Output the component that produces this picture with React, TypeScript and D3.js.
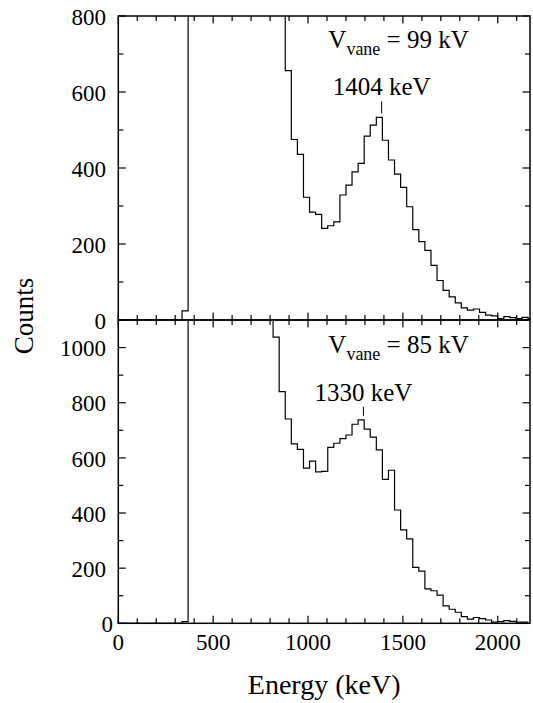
import React from 'react'
import * as d3 from 'd3'

// histogram bins: width 32 keV, first listed bin starts at 336 keV
const binStart = 336
const binWidth = 32

// 99 kV run; bins from 368 to 880 are off scale (above 800)
const countsTop = [
    24,
    1500, 1500, 1500, 1500, 1500, 1500, 1500, 1500,
    1500, 1500, 1500, 1500, 1500, 1500, 1500, 1500,
    656, 475, 436, 323, 284, 278, 241, 248, 258, 329,
    355, 390, 412, 484, 513, 533, 473, 421, 384, 349,
    298, 238, 206, 183, 144, 104, 78, 61, 45, 32,
    26, 29, 20, 13, 11, 4, 9, 6, 4, 7, 3,
]

// 85 kV run; bins from 368 to 816 are off scale (above 1100)
const countsBottom = [
    6,
    1500, 1500, 1500, 1500, 1500, 1500, 1500,
    1500, 1500, 1500, 1500, 1500, 1500, 1500,
    1038, 840, 741, 651, 631, 563, 588, 549, 551, 638,
    653, 670, 683, 722, 738, 704, 675, 629, 522, 555,
    411, 339, 306, 203, 189, 125, 118, 102, 63, 51,
    40, 24, 15, 21, 17, 12, 4, 6, 10, 7, 4, 4,
]

const xTickLabels = [0, 500, 1000, 1500, 2000]
const yTickLabelsTop = [0, 200, 400, 600, 800]
const yTickLabelsBottom = [0, 200, 400, 600, 800, 1000]

const panels = [
    { counts: countsTop, yMax: 800, range: [320, 16], vane: '99', peak: 1404, peakAt: 1388, ticks: yTickLabelsTop },
    { counts: countsBottom, yMax: 1100, range: [623.3, 320], vane: '85', peak: 1330, peakAt: 1292, ticks: yTickLabelsBottom },
]

const font = '"Liberation Serif", "Times New Roman", Times, serif'

const App = () => {
    const x = d3.scaleLinear().domain([0, 2170]).range([118.3, 530])
    const [x0, x1] = x.range()
    const minorX = d3.range(0, 2170, 100)

    return (
        <svg width={533} height={703} style={{ position: 'absolute', left: 0, top: 0, fontFamily: font }}>
            {panels.map((p, pi) => {
                const y = d3.scaleLinear().domain([0, p.yMax]).range(p.range)
                const [yb, yt] = y.range()
                const pts: [number, number][] = [[0, 0]]
                p.counts.forEach((c, i) => pts.push([binStart + i * binWidth, c]))
                pts.push([binStart + p.counts.length * binWidth, p.counts[p.counts.length - 1]])
                const line = d3.line<[number, number]>()
                    .x(d => x(d[0]))
                    .y(d => y(d[1]))
                    .curve(d3.curveStepAfter)
                const minorY = d3.range(0, p.yMax + 1, 100)
                const peakIdx = Math.floor((p.peakAt - binStart) / binWidth)
                const peakY = y(p.counts[peakIdx])
                const isTop = pi === 0
                return (
                    <g key={pi}>
                        <clipPath id={'clip' + pi}>
                            <rect x={x0} y={yt} width={x1 - x0} height={yb - yt} />
                        </clipPath>
                        <path d={line(pts) || ''} fill="none" stroke="#000" strokeWidth={1.2} clipPath={`url(#clip${pi})`} />
                        {/* y ticks, left and right */}
                        {minorY.map(v => {
                            const len = v % 200 === 0 ? 7.5 : 5
                            return (
                                <g key={v} stroke="#000" strokeWidth={1.2}>
                                    <line x1={x0} x2={x0 + len} y1={y(v)} y2={y(v)} />
                                    <line x1={x1} x2={x1 - len} y1={y(v)} y2={y(v)} />
                                </g>
                            )
                        })}
                        {/* x ticks on this panel's top and bottom edges */}
                        {minorX.map(v => {
                            const len = v % 500 === 0 ? 7.5 : 5
                            return (
                                <g key={v} stroke="#000" strokeWidth={1.2}>
                                    <line x1={x(v)} x2={x(v)} y1={yt} y2={yt + len} />
                                    <line x1={x(v)} x2={x(v)} y1={yb} y2={yb - len} />
                                </g>
                            )
                        })}
                        {p.ticks.map(v => (
                            <text key={v} x={!isTop && v === 0 ? 113 : 106} y={y(v)} dy="0.38em" textAnchor="end" fontSize={23}>{v}</text>
                        ))}
                        <rect x={x0} y={yt} width={x1 - x0} height={yb - yt} fill="none" stroke="#000" strokeWidth={1.5} />
                        <text x={x(1107)} y={isTop ? 48 : 353} fontSize={25}>
                            V<tspan fontSize={18} dy={7}>vane</tspan><tspan dy={-7}> = {p.vane} kV</tspan>
                        </text>
                        <line x1={x(p.peakAt)} x2={x(p.peakAt)} y1={peakY - 4} y2={peakY - (isTop ? 16 : 13)} stroke="#000" strokeWidth={1} />
                        <text x={x(p.peakAt)} y={peakY - (isTop ? 22.5 : 18.5)} textAnchor="middle" fontSize={25}>{p.peak} keV</text>
                    </g>
                )
            })}
            {xTickLabels.map(v => (
                <text key={v} x={x(v)} y={650} textAnchor="middle" fontSize={23}>{v}</text>
            ))}
            <text x={(x0 + x1) / 2} y={694} textAnchor="middle" fontSize={28}>Energy (keV)</text>
            <text transform="translate(33,316) rotate(-90)" textAnchor="middle" fontSize={27}>Counts</text>
        </svg>
    )
}

export default App
